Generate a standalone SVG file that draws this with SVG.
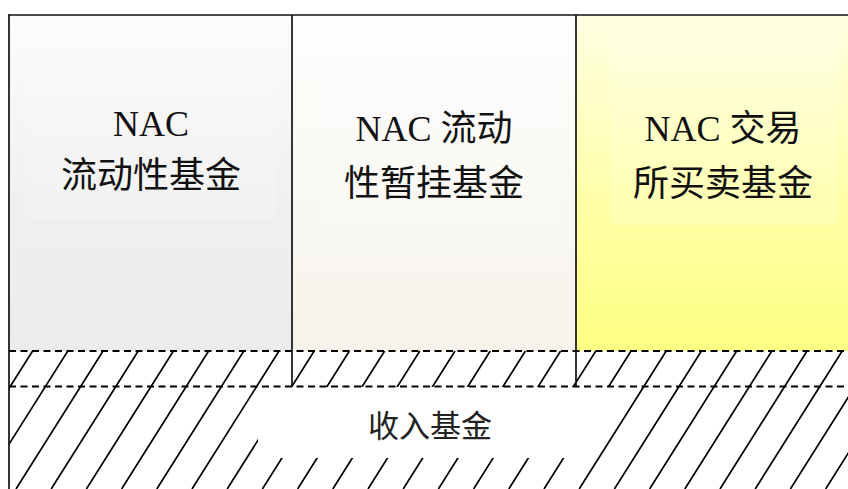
<svg xmlns="http://www.w3.org/2000/svg" width="848" height="489" viewBox="0 0 848 489">
  <style>
    .lbl { font-family: "Liberation Serif", "Noto Sans CJK SC", serif; font-size: 36px; fill: #111; text-anchor: middle; }
    .small { font-size: 31px; fill: #222; }
    .border { stroke: #111; stroke-width: 1.7; fill: none; }
    .dash { stroke: #000; stroke-width: 1.8; stroke-dasharray: 7 4.5; fill: none; }
    .hatch { stroke: #000; stroke-width: 1.7; fill: none; }
  </style>
  <defs>
    <linearGradient id="g1" x1="0" y1="0" x2="0" y2="1">
      <stop offset="0" stop-color="#fcfcfc"/>
      <stop offset="0.6" stop-color="#efefef"/>
      <stop offset="1" stop-color="#ececec"/>
    </linearGradient>
    <linearGradient id="g2" x1="0" y1="0" x2="0" y2="1">
      <stop offset="0" stop-color="#fefefd"/>
      <stop offset="0.6" stop-color="#f9f7f2"/>
      <stop offset="1" stop-color="#f6f3eb"/>
    </linearGradient>
    <linearGradient id="g3" x1="0" y1="0" x2="0" y2="1">
      <stop offset="0" stop-color="#ffffe4"/>
      <stop offset="0.55" stop-color="#ffffa8"/>
      <stop offset="1" stop-color="#ffff84"/>
    </linearGradient>
    <clipPath id="hclip">
      <rect x="9" y="351" width="839" height="138"/>
    </clipPath>
  </defs>

  <rect x="0" y="0" width="848" height="489" fill="#ffffff"/>

  <g id="box1">
    <rect x="9" y="15" width="283" height="336" fill="url(#g1)"/>
    <rect x="26" y="30" width="250" height="190" fill="#ffffff" opacity="0.15"/>
    <text class="lbl" x="151" y="136">NAC</text>
    <text class="lbl" x="151" y="188">流动性基金</text>
  </g>

  <g id="box2">
    <rect x="292" y="15" width="284" height="336" fill="url(#g2)"/>
    <rect x="320" y="30" width="240" height="195" fill="#ffffff" opacity="0.15"/>
    <text class="lbl" x="434" y="141">NAC 流动</text>
    <text class="lbl" x="434" y="196">性暂挂基金</text>
  </g>

  <g id="box3">
    <rect x="576" y="15" width="272" height="336" fill="url(#g3)"/>
    <rect x="610" y="30" width="228" height="195" fill="#ffffff" opacity="0.15"/>
    <text class="lbl" x="723" y="141">NAC 交易</text>
    <text class="lbl" x="723" y="196">所买卖基金</text>
  </g>

  <g id="income">
    <path class="hatch" clip-path="url(#hclip)" d="M32.6 351L-54.4 489M67.8 351L-19.2 489M103 351L16 489M138.2 351L51.2 489M173.4 351L86.4 489M208.6 351L121.6 489M243.8 351L156.8 489M279 351L192 489M314.2 351L227.2 489M349.4 351L262.4 489M384.6 351L297.6 489M419.8 351L332.8 489M455 351L368 489M490.2 351L403.2 489M525.4 351L438.4 489M560.6 351L473.6 489M595.8 351L508.8 489M631 351L544 489M666.2 351L579.2 489M701.4 351L614.4 489M736.6 351L649.6 489M771.8 351L684.8 489M807 351L720 489M842.2 351L755.2 489M877.4 351L790.4 489M912.6 351L825.6 489"/>
    <polygon points="258,387 627,387 581.5,458 258,458" fill="#ffffff"/>
    <text class="lbl small" x="430" y="437">收入基金</text>
  </g>

  <g id="connectors">
    <line class="dash" x1="9" y1="351" x2="848" y2="351"/>
    <line class="dash" x1="9" y1="386.5" x2="848" y2="386.5"/>
    <line class="border" x1="8" y1="15" x2="848" y2="15"/>
    <line class="border" x1="9" y1="14.5" x2="9" y2="489"/>
    <line class="border" x1="292" y1="15" x2="292" y2="386.5"/>
    <line class="border" x1="576" y1="15" x2="576" y2="386.5"/>
  </g>
</svg>
